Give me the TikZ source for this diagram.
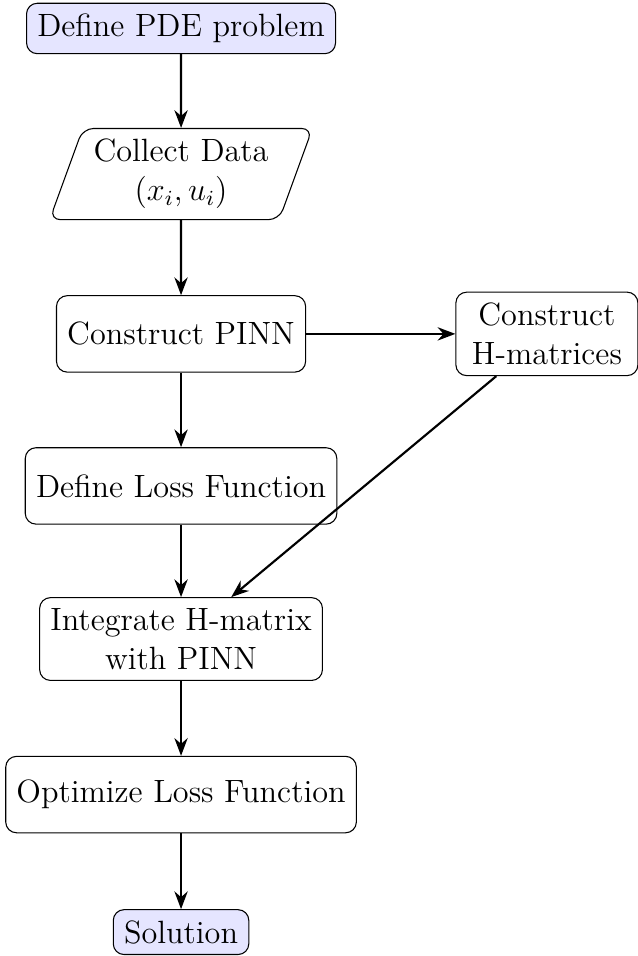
\documentclass[12pt,tikz,border=0pt]{standalone}
\usetikzlibrary{shapes.geometric, arrows.meta}
\begin{document}
\begin{tikzpicture}[x=10,y=10,
  startstop/.style={rectangle, rounded corners, draw, fill=blue!10, align=center},
  io/.style={trapezium, trapezium left angle=70, trapezium right angle=110, rounded corners, draw, align=center},
  process/.style={rectangle, rounded corners, draw, minimum height=1cm, align=center},
  arrow/.style={thick, -Stealth}]
  \useasboundingbox (0,0) rectangle (23.75,-35.59);
  \node[startstop] (pde)   at (6.74,-1.06)  {Define PDE problem};
  \node[io]        (data)  at (6.74,-6.48)  {Collect Data\\$(x_i, u_i)$};
  \node[process]   (pinn)  at (6.74,-12.43) {Construct PINN};
  \node[process, text width=2.1cm] (hmat) at (20.36,-12.43) {Construct\\H-matrices};
  \node[process]   (loss)  at (6.74,-18.09) {Define Loss Function};
  \node[process]   (integ) at (6.74,-23.79) {Integrate H-matrix\\with PINN};
  \node[process]   (optim) at (6.74,-29.58) {Optimize Loss Function};
  \node[startstop] (sol)   at (6.74,-34.70) {Solution};
  \draw[arrow] (pde) -- (data);
  \draw[arrow] (data) -- (pinn);
  \draw[arrow] (pinn) -- (hmat);
  \draw[arrow] (pinn) -- (loss);
  \draw[arrow] (loss) -- (integ);
  \draw[arrow] (hmat) -- (integ);
  \draw[arrow] (integ) -- (optim);
  \draw[arrow] (optim) -- (sol);
\end{tikzpicture}
\end{document}
